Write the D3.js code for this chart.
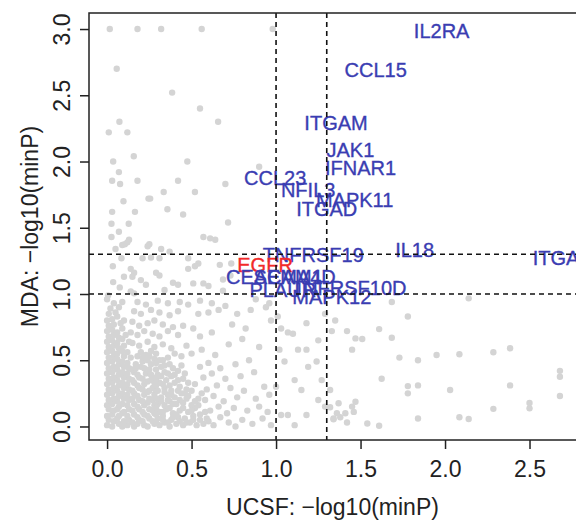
<!DOCTYPE html>
<html>
<head>
<meta charset="utf-8">
<script src="https://cdn.jsdelivr.net/npm/d3@7"></script>
<style>
body { margin: 0; background: #fff; }
text { font-family: "Liberation Sans", Arial, Helvetica, sans-serif; }
</style>
</head>
<body>
<div id="chart"></div>
<script>
// axis ticks and the two significance cut-offs (p = 0.1 and p = 0.05)
var xTicks = [0, 0.5, 1, 1.5, 2, 2.5];
var yTicks = [0, 0.5, 1, 1.5, 2, 2.5, 3];
var cutoffs = [1, 1.3];

// labelled genes: UCSF -log10(minP), MDA -log10(minP)
var geneNames = ["IL2RA", "CCL15", "ITGAM", "JAK1", "IFNAR1", "CCL23", "NFIL3", "MAPK11", "ITGAD",
                 "IL18", "ITGAL", "TNFRSF19", "EGFR", "CEACAM1", "SEMA4D", "PLAUR", "TNFRSF10D", "MAPK12"];
var geneUcsf = [1.98, 1.59, 1.355, 1.44, 1.50, 0.995, 1.19, 1.465, 1.30,
                1.82, 2.69, 1.22, 0.935, 0.99, 1.11, 1.04, 1.43, 1.33];
var geneMda  = [2.99, 2.69, 2.29, 2.09, 1.95, 1.88, 1.79, 1.71, 1.64,
                1.33, 1.27, 1.295, 1.22, 1.13, 1.13, 1.03, 1.045, 0.98];
var highlight = ["EGFR"];

// background genes, [ucsf, mda]
var coreDense = [
  [0.00,0.01],[0.03,0.00],[0.07,0.02],[0.09,0.00],[0.12,0.01],[0.16,0.00],[0.18,0.02],[0.22,0.01],[0.24,0.00],[0.28,0.02],
  [0.01,0.05],[0.04,0.04],[0.06,0.06],[0.10,0.04],[0.13,0.05],[0.15,0.03],[0.19,0.05],[0.21,0.04],[0.25,0.06],[0.27,0.04],
  [0.00,0.08],[0.03,0.09],[0.07,0.08],[0.09,0.10],[0.12,0.08],[0.16,0.09],[0.18,0.07],[0.22,0.09],[0.24,0.08],[0.28,0.10],
  [0.01,0.13],[0.04,0.12],[0.06,0.13],[0.10,0.11],[0.13,0.13],[0.15,0.12],[0.19,0.13],[0.21,0.11],[0.25,0.13],[0.27,0.12],
  [0.00,0.16],[0.03,0.17],[0.07,0.15],[0.09,0.17],[0.12,0.16],[0.16,0.17],[0.18,0.15],[0.22,0.16],[0.24,0.18],[0.28,0.16],
  [0.01,0.20],[0.04,0.21],[0.06,0.19],[0.10,0.21],[0.13,0.20],[0.15,0.21],[0.19,0.20],[0.21,0.19],[0.25,0.21],[0.27,0.20],
  [0.00,0.24],[0.03,0.25],[0.07,0.23],[0.09,0.25],[0.12,0.24],[0.16,0.25],[0.18,0.23],[0.22,0.24],[0.24,0.26],[0.28,0.24],
  [0.01,0.28],[0.04,0.29],[0.06,0.27],[0.10,0.29],[0.13,0.28],[0.15,0.27],[0.19,0.29],[0.21,0.28],[0.25,0.27],[0.27,0.29],
  [0.00,0.32],[0.03,0.33],[0.07,0.31],[0.09,0.33],[0.12,0.32],[0.16,0.33],[0.18,0.31],[0.22,0.32],[0.24,0.34],
  [0.01,0.36],[0.04,0.37],[0.06,0.35],[0.10,0.37],[0.13,0.36],[0.15,0.35],[0.19,0.37],[0.21,0.36],[0.26,0.35],
  [0.00,0.40],[0.03,0.41],[0.07,0.39],[0.09,0.41],[0.12,0.40],[0.16,0.41],[0.18,0.39],[0.23,0.40],
  [0.01,0.44],[0.04,0.45],[0.06,0.43],[0.10,0.45],[0.13,0.44],[0.15,0.43],[0.20,0.45],
  [0.00,0.48],[0.03,0.49],[0.07,0.47],[0.09,0.49],[0.12,0.48],[0.17,0.47],[0.21,0.49],
  [0.01,0.52],[0.04,0.53],[0.06,0.51],[0.10,0.53],[0.14,0.52],[0.18,0.53]
];
var coreFill = [
  [0.17,0.44],[0.22,0.44],[0.25,0.43],[0.26,0.47],[0.24,0.50],[0.21,0.52],[0.25,0.53],[0.28,0.51],
  [0.26,0.39],[0.28,0.33],[0.27,0.37],[0.29,0.27]
];
var midDense = [
  [0.31,0.01],[0.34,0.03],[0.37,0.00],[0.41,0.02],[0.45,0.01],[0.49,0.03],[0.53,0.01],[0.57,0.02],
  [0.30,0.06],[0.33,0.08],[0.38,0.05],[0.42,0.07],[0.46,0.06],[0.51,0.08],[0.55,0.05],
  [0.31,0.11],[0.35,0.13],[0.39,0.10],[0.43,0.12],[0.48,0.11],[0.52,0.14],[0.58,0.11],
  [0.30,0.17],[0.34,0.16],[0.37,0.19],[0.41,0.17],[0.45,0.18],[0.50,0.16],
  [0.32,0.22],[0.36,0.24],[0.40,0.22],[0.44,0.25],[0.48,0.23],[0.54,0.21],
  [0.30,0.27],[0.34,0.29],[0.38,0.27],[0.43,0.30],[0.47,0.28],
  [0.31,0.33],[0.35,0.35],[0.40,0.33],[0.45,0.36],[0.52,0.32],
  [0.30,0.39],[0.34,0.41],[0.38,0.38],[0.42,0.42],
  [0.32,0.45],[0.37,0.47],[0.44,0.46],
  [0.31,0.50],[0.36,0.52]
];
var midFill = [
  [0.29,0.03],[0.33,0.05],[0.36,0.03],[0.39,0.07],[0.43,0.04],[0.47,0.03],[0.51,0.05],[0.55,0.09],[0.59,0.06],
  [0.29,0.09],[0.33,0.11],[0.37,0.14],[0.41,0.09],[0.45,0.14],[0.50,0.12],[0.54,0.16],
  [0.29,0.14],[0.32,0.19],[0.36,0.20],[0.39,0.17],[0.43,0.20],[0.47,0.21],[0.52,0.19],[0.56,0.25],
  [0.29,0.21],[0.34,0.26],[0.38,0.24],[0.42,0.27],[0.46,0.25],[0.50,0.27],
  [0.29,0.31],[0.33,0.32],[0.37,0.31],[0.42,0.35],[0.48,0.33],
  [0.29,0.36],[0.32,0.38],[0.36,0.40],[0.40,0.39],[0.46,0.40],
  [0.29,0.43],[0.34,0.46],[0.39,0.44],[0.29,0.48],[0.33,0.50]
];
var leftColumn = [
  [0.00,0.56],[0.03,0.57],[0.06,0.55],[0.09,0.57],[0.12,0.56],
  [0.01,0.60],[0.04,0.61],[0.07,0.59],[0.10,0.61],
  [0.00,0.64],[0.03,0.65],[0.06,0.63],[0.09,0.66],[0.13,0.64],
  [0.01,0.68],[0.04,0.69],[0.07,0.67],[0.11,0.69],
  [0.00,0.72],[0.03,0.73],[0.06,0.71],[0.09,0.74],
  [0.01,0.76],[0.04,0.77],[0.08,0.78],
  [0.00,0.80],[0.03,0.81],[0.06,0.83],[0.10,0.80],
  [0.01,0.85],[0.05,0.86],[0.02,0.89],[0.07,0.90],[0.04,0.93],[0.09,0.94],[0.00,0.96]
];
var moderate = [
  [0.18,0.94],[0.23,0.92],[0.30,0.95],[0.36,0.93],[0.43,0.94],[0.48,0.92],[0.55,0.95],[0.62,0.93],[0.70,0.91],
  [0.16,0.87],[0.20,0.85],[0.26,0.88],[0.31,0.86],[0.37,0.84],[0.42,0.87],[0.54,0.85],[0.60,0.86],[0.66,0.88],
  [0.15,0.79],[0.19,0.76],[0.24,0.78],[0.28,0.80],[0.33,0.77],[0.39,0.75],[0.45,0.76],[0.51,0.74],
  [0.14,0.71],[0.18,0.69],[0.22,0.72],[0.27,0.70],[0.31,0.68],[0.36,0.72],[0.42,0.69],
  [0.15,0.63],[0.19,0.61],[0.24,0.64],[0.28,0.60],[0.33,0.62],[0.38,0.59],[0.47,0.61],
  [0.20,0.56],[0.23,0.54],[0.26,0.57],[0.29,0.55],[0.40,0.55],[0.44,0.53]
];
var sparseLow = [
  [0.60,0.04],[0.63,0.01],[0.67,0.07],[0.72,0.03],[0.76,0.00],[0.80,0.05],[0.86,0.02],[0.92,0.06],[0.97,0.01],
  [0.61,0.12],[0.66,0.15],[0.71,0.10],[0.75,0.14],[0.83,0.12],[0.90,0.15],[0.95,0.11],
  [0.58,0.20],[0.63,0.23],[0.69,0.19],[0.77,0.22],[0.88,0.21],[0.96,0.24],
  [0.59,0.28],[0.65,0.31],[0.73,0.29],[0.81,0.27],[0.93,0.30],
  [0.57,0.37],[0.62,0.40],[0.70,0.36],[0.79,0.38],[0.87,0.41],
  [0.55,0.45],[0.60,0.48],[0.67,0.44],[0.76,0.47],[0.84,0.50]
];
var sparseHigh = [
  [0.50,0.55],[0.56,0.58],[0.64,0.54],[0.72,0.62],[0.80,0.66],[0.90,0.60],
  [0.55,0.68],[0.62,0.71],[0.74,0.77],[0.82,0.74],[0.77,0.85],[0.85,0.88],[0.94,0.90],[0.97,0.80],[0.88,0.96],[0.96,0.93]
];
var rightPts = [
  [1.01,0.83],[1.03,0.74],[1.07,0.71],[1.10,0.70],[1.18,0.78],[1.25,0.65],[1.29,0.85],[1.35,0.80],
  [1.02,0.58],[1.05,0.49],[1.11,0.35],[1.15,0.275],[1.19,0.45],[1.24,0.49],[1.27,0.35],[1.32,0.275],
  [1.13,0.58],[1.18,0.58],[1.00,0.30],[1.03,0.087],[1.07,0.087],[1.11,0.01],[1.18,0.087],[1.25,0.20],[1.29,0.15],[1.34,0.06],
  [1.685,0.94],[2.14,0.967],[1.33,0.72],[1.42,0.72],[1.61,0.735],[1.78,0.83],[1.685,0.67],[1.47,0.665],[1.51,0.66],[1.45,0.58],
  [1.73,0.52],[1.84,0.50],[1.95,0.54],[2.085,0.545],[2.286,0.56],[2.385,0.59],[2.68,0.42],[2.68,0.375],
  [1.625,0.36],[1.78,0.305],[1.78,0.25],[1.84,0.31],[2.03,0.275],[2.385,0.31],[2.68,0.23],[2.50,0.177],[2.50,0.137],[2.286,0.133],
  [1.37,0.175],[1.47,0.187],[1.45,0.15],[1.46,0.11],[1.41,0.10],[1.36,0.10],[1.38,0.07],[1.34,0.055],[1.42,0.03],[1.32,0.145],
  [1.54,0.023],[1.61,0.006],[1.84,0.06],[2.085,0.07],[2.14,0.056]
];
var upperPts = [
  [0.016,3.0],[0.18,3.0],[0.32,3.0],[0.56,3.0],[0.98,3.0],
  [0.057,2.70],[0.385,2.52],[0.55,2.40],[0.073,2.30],[0.657,2.30],
  [0.01,2.22],[0.12,2.22],[0.158,2.04],[0.036,2.00],[0.475,2.00],[0.90,1.96],
  [0.07,1.92],[0.03,1.855],[0.077,1.83],[0.18,1.855],[0.42,1.855],[0.70,1.83],
  [0.335,1.77],[0.52,1.77],[0.245,1.72],[0.255,1.72],[0.097,1.70],
  [0.03,1.62],[0.165,1.62],[0.357,1.64],[0.45,1.60],
  [0.026,1.53],[0.128,1.53],[0.716,1.54],[0.07,1.47],[0.026,1.43],
  [0.13,1.41],[0.12,1.39],[0.57,1.43],[0.61,1.42],[0.64,1.41],
  [0.09,1.37],[0.105,1.375],[0.25,1.375],[0.24,1.36],[0.32,1.34],[0.37,1.32],[0.05,1.34],
  [0.085,1.27],[0.21,1.27],[0.31,1.27],[0.26,1.275],[0.48,1.27],[0.54,1.23],
  [0.034,1.21],[0.14,1.19],[0.16,1.16],[0.15,1.13],[0.10,1.13],[0.29,1.16],[0.31,1.14],
  [0.48,1.19],[0.52,1.21],[0.667,1.22],[0.686,1.11],[0.73,1.14],[0.735,1.23],
  [0.036,1.09],[0.075,1.05],[0.20,1.105],[0.23,1.07],[0.39,1.085],[0.42,1.07],
  [0.51,1.08],[0.57,1.08],[0.60,1.06],[0.686,1.025],[0.14,1.02],[0.16,1.005],[0.006,0.99],[0.34,1.03]
];

var width = 576, height = 521;
var plot = {left: 89, top: 13, right: 577, bottom: 440};

var svg = d3.select("#chart").append("svg")
    .attr("width", width).attr("height", height);

var x = d3.scaleLinear().domain([-0.107, 2.781]).range([plot.left, plot.right]);
var y = d3.scaleLinear().domain([-0.102, 3.121]).range([plot.bottom, plot.top]);

svg.append("defs").append("clipPath").attr("id", "plotClip")
    .append("rect")
    .attr("x", plot.left).attr("y", plot.top)
    .attr("width", plot.right - plot.left).attr("height", plot.bottom - plot.top);

var inner = svg.append("g").attr("clip-path", "url(#plotClip)");

var allPts = [].concat(coreDense, coreFill, midDense, midFill, leftColumn, moderate,
                       sparseLow, sparseHigh, rightPts, upperPts);
inner.selectAll("circle.bg")
    .data(allPts)
    .enter().append("circle")
    .attr("class", "bg")
    .attr("cx", function(d){ return x(d[0]); })
    .attr("cy", function(d){ return y(d[1]); })
    .attr("r", 3.2)
    .attr("fill", "#d4d4d4");

var genes = geneNames.map(function(n, i){ return {name: n, ucsf: geneUcsf[i], mda: geneMda[i]}; });
inner.selectAll("text.gene")
    .data(genes)
    .enter().append("text")
    .attr("class", "gene")
    .attr("x", function(d){ return x(d.ucsf); })
    .attr("y", function(d){ return y(d.mda); })
    .attr("dy", "0.36em")
    .attr("text-anchor", "middle")
    .attr("font-size", 20)
    .attr("fill", function(d){ return highlight.indexOf(d.name) >= 0 ? "#f22a2a" : "#3a3db2"; })
    .attr("stroke", function(d){ return highlight.indexOf(d.name) >= 0 ? "#f22a2a" : "#3a3db2"; })
    .attr("stroke-width", 0.35)
    .text(function(d){ return d.name; });

// dashed cut-off lines
inner.selectAll("line.vcut")
    .data(cutoffs)
    .enter().append("line")
    .attr("x1", function(d){ return x(d); }).attr("x2", function(d){ return x(d); })
    .attr("y1", plot.top).attr("y2", plot.bottom)
    .attr("stroke", "#111").attr("stroke-width", 1.6).attr("stroke-dasharray", "5,4");
inner.selectAll("line.hcut")
    .data(cutoffs)
    .enter().append("line")
    .attr("y1", function(d){ return y(d); }).attr("y2", function(d){ return y(d); })
    .attr("x1", plot.left).attr("x2", plot.right)
    .attr("stroke", "#111").attr("stroke-width", 1.6).attr("stroke-dasharray", "5,4");

// box
svg.append("rect")
    .attr("x", plot.left).attr("y", plot.top)
    .attr("width", plot.right - plot.left).attr("height", plot.bottom - plot.top)
    .attr("fill", "none").attr("stroke", "#222").attr("stroke-width", 1.5);

var xAxis = d3.axisBottom(x).tickValues(xTicks).tickSize(9).tickFormat(d3.format(".1f"));
var gx = svg.append("g").attr("transform", "translate(0," + plot.bottom + ")").call(xAxis);
gx.select(".domain").remove();
gx.selectAll("line").attr("stroke", "#222").attr("stroke-width", 1.5);
gx.selectAll("text").attr("y", 37).attr("dy", 0).attr("font-size", 23).attr("fill", "#222");

var yAxis = d3.axisLeft(y).tickValues(yTicks).tickSize(9).tickFormat(d3.format(".1f"));
var gy = svg.append("g").attr("transform", "translate(" + plot.left + ",0)").call(yAxis);
gy.select(".domain").remove();
gy.selectAll("line").attr("stroke", "#222").attr("stroke-width", 1.5);
gy.selectAll("text")
    .attr("x", 0).attr("y", -19).attr("dy", 0)
    .attr("text-anchor", "middle")
    .attr("transform", "rotate(-90)")
    .attr("font-size", 23).attr("fill", "#222");

svg.append("text")
    .attr("x", (plot.left + width) / 2).attr("y", 515)
    .attr("text-anchor", "middle").attr("font-size", 23).attr("fill", "#222")
    .text("UCSF: \u2212log10(minP)");

svg.append("text")
    .attr("transform", "translate(38," + ((plot.top + plot.bottom) / 2) + ") rotate(-90)")
    .attr("text-anchor", "middle").attr("font-size", 23).attr("fill", "#222")
    .text("MDA: \u2212log10(minP)");
</script>
</body>
</html>
